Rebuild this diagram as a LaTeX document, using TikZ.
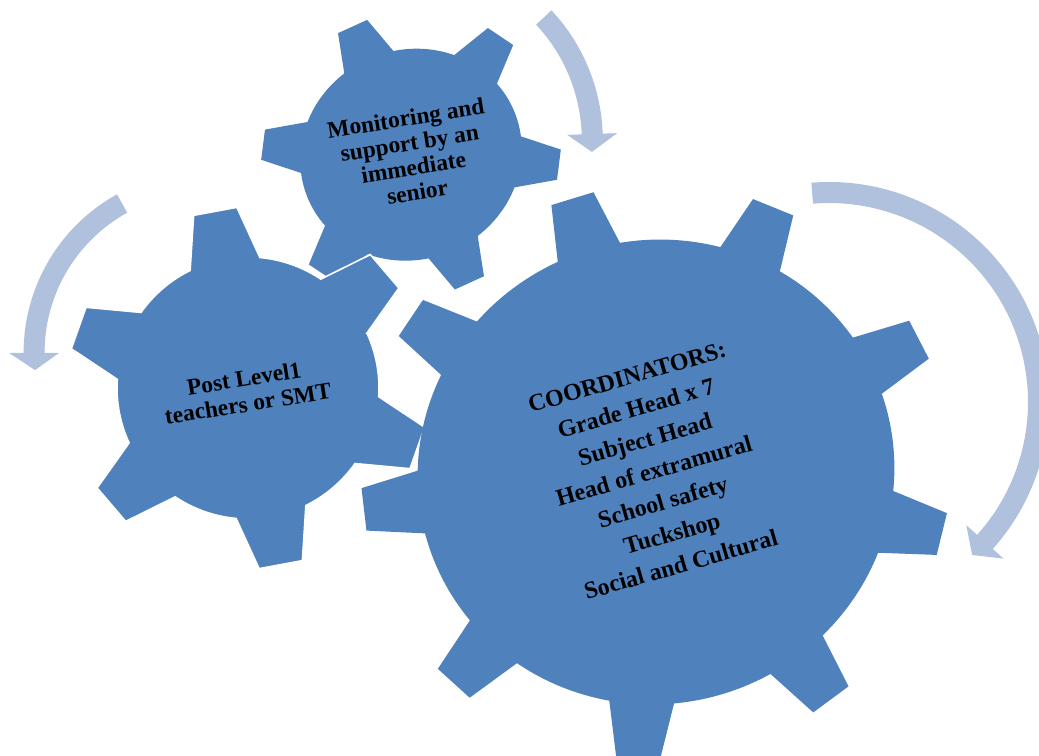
\documentclass[tikz,border=0pt]{standalone}
\usepackage{fontspec}
\setmainfont{Liberation Serif}
\definecolor{gearblue}{HTML}{4F81BD}
\definecolor{arrowblue}{RGB}{176,193,221}
\tikzset{
  gearfill/.style={fill=gearblue},
  gearedge/.style={fill=gearblue, draw=white, line width=1.2pt},
  arrowband/.style={fill=arrowblue},
  geartext/.style={text=black, align=center, inner sep=0pt},
}
% #1 style, #2 step angle, #3 last tooth index, #4 outer radius, #5 inner radius,
% #6 half angle of tooth tip, #7 half angle of tooth base
\newcommand{\drawgear}[7]{%
  \path[#1] ({-#7}:#5) \foreach \k [evaluate=\k as \t using {#2*\k}] in {0,...,#3} {
     -- ({\t-#6}:#4) -- ({\t+#6}:#4) -- ({\t+#7}:#5)
     arc[start angle={\t+#7}, end angle={\t+#2-#7}, radius=#5]
  } -- cycle;
}
% #1 cx, #2 cy, #3 mid radius, #4 start angle, #5 angle of head base, #6 angle of tip
\newcommand{\bandarrow}[6]{%
  \begin{scope}[shift={(#1,#2)}]
  \fill[arrowband] (#4:{#3+10.5}) arc[start angle=#4, end angle=#5, radius={#3+10.5}]
     -- (#5:{#3+25}) -- (#6:#3) -- (#5:{#3-25}) -- (#5:{#3-10.5})
     arc[start angle=#5, end angle=#4, radius={#3-10.5}] -- cycle;
  \end{scope}}
\begin{document}
\begin{tikzpicture}[x=0.75pt, y=0.75pt]
\path[use as bounding box] (0,0) rectangle (1039,756);
\clip (0,0) rectangle (1039,756);
\fill[white] (0,0) rectangle (1039,756);

% circular arrows
\bandarrow{412.6}{615.7}{179.7}{43.1}{2}{-3.7}
\bandarrow{829}{354}{209.5}{94.6}{-41.9}{-46.9}
\bandarrow{204.4}{403.4}{170.3}{118.9}{180.1}{185.9}

% top gear
\begin{scope}[shift={(411,601.3)}, rotate=114.5, xscale=0.935]
  \drawgear{gearfill}{60}{5}{151.5}{112}{6.06}{13.95}
\end{scope}
% left gear
\begin{scope}[shift={(248,368)}, rotate=40.5]
  \drawgear{gearedge}{60}{5}{181}{131}{6.98}{15.72}
\end{scope}
% big gear
\begin{scope}[shift={(656,284)}, rotate=107, xscale=0.97]
  \drawgear{gearfill}{40}{8}{295.5}{239}{4.27}{7.82}
\end{scope}

\node[geartext, font=\bfseries\fontsize{17.6}{18.7}\selectfont, rotate=9] (monitor) at (411.5,601)
  {Monitoring and\\support by an\\immediate\\senior};
\node[geartext, font=\bfseries\fontsize{17.6}{19.1}\selectfont, rotate=9] (post) at (246,365)
  {Post Level1\\teachers or SMT};
\node[geartext, font=\bfseries\fontsize{18}{24.4}\selectfont, rotate=16] (coord) at (654,285)
  {COORDINATORS:\\Grade Head x 7\\Subject Head\\Head of extramural\\School safety\\Tuckshop\\Social and Cultural};
\end{tikzpicture}
\end{document}
